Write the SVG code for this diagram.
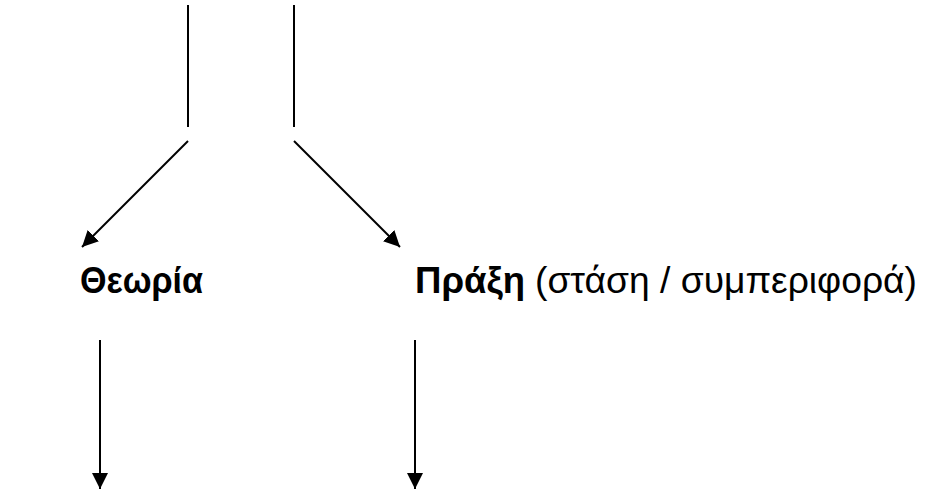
<svg xmlns="http://www.w3.org/2000/svg" width="931" height="491" viewBox="0 0 931 491">
<defs>
<style>
.ln{stroke:#000;stroke-width:2;fill:none}
.t{font-family:"Liberation Sans",Arial,sans-serif;font-size:36px;fill:#000}
.b{font-weight:bold}
</style>
<marker id="ah2" markerWidth="16" markerHeight="16" refX="16" refY="8" orient="auto" markerUnits="userSpaceOnUse" viewBox="0 0 16 16">
<path d="M0,0 L16,8 L0,16 z" fill="#000"/>
</marker>
</defs>
<rect width="931" height="491" fill="#fff"/>
<g id="connectors">
<line class="ln" x1="188" y1="5" x2="188" y2="127"/>
<line class="ln" x1="294" y1="5" x2="294" y2="127"/>
<line class="ln" x1="188" y1="141" x2="82" y2="247" marker-end="url(#ah2)"/>
<line class="ln" x1="294" y1="141" x2="400" y2="247" marker-end="url(#ah2)"/>
<line class="ln" x1="100" y1="340" x2="100" y2="489" marker-end="url(#ah2)"/>
<line class="ln" x1="415" y1="340" x2="415" y2="489" marker-end="url(#ah2)"/>
</g>
<g id="theoria">
<text class="t b" x="80" y="293" textLength="123" lengthAdjust="spacingAndGlyphs">Θεωρία</text>
</g>
<g id="praxi">
<text class="t b" x="415" y="293" textLength="110" lengthAdjust="spacingAndGlyphs">Πράξη</text>
<text class="t" x="535" y="293" textLength="382" lengthAdjust="spacingAndGlyphs">(στάση / συμπεριφορά)</text>
</g>
</svg>
